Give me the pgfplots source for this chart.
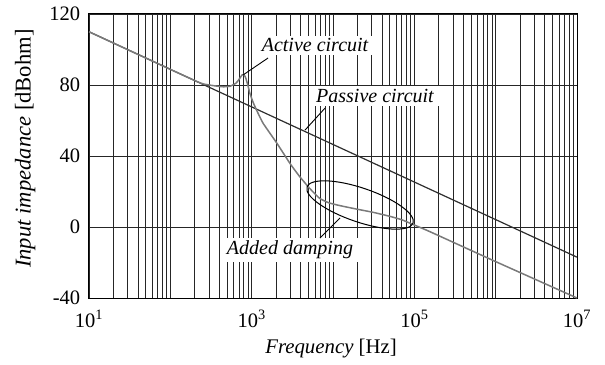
\documentclass[border=0pt]{standalone}
\usepackage{fontspec}
\setmainfont{Liberation Serif}
\usepackage{pgfplots}
\pgfplotsset{compat=1.18}
\usetikzlibrary{shapes.geometric}
\definecolor{passivecol}{HTML}{2E2E2E}
\definecolor{activecol}{HTML}{7A7A7A}
\definecolor{gridcol}{HTML}{262626}
\begin{document}
\fontsize{20bp}{24bp}\selectfont
\begin{tikzpicture}
\begin{axis}[
  scale only axis, width=488bp, height=284bp,
  xmode=log, xmin=10, xmax=1e7, ymin=-40, ymax=120,
  log basis x=10,
  xtick={1e1,1e2,1e3,1e4,1e5,1e6,1e7},
  minor xtick={20,30,40,50,60,70,80,90,
    200,300,400,500,600,700,800,900,
    2000,3000,4000,5000,6000,7000,8000,9000,
    20000,30000,40000,50000,60000,70000,80000,90000,
    200000,300000,400000,500000,600000,700000,800000,900000,
    2000000,3000000,4000000,5000000,6000000,7000000,8000000,9000000},
  xticklabels={10\textsuperscript{1},,10\textsuperscript{3},,10\textsuperscript{5},,10\textsuperscript{7}},
  ytick={-40,0,40,80,120}, yticklabels={-40,0,40,80,120},
  xmajorgrids, xminorgrids, ymajorgrids,
  major tick length=0pt, minor tick length=0pt,
  grid style={draw=gridcol, line width=0.8bp},
  minor grid style={draw=gridcol, line width=0.8bp},
  major grid style={draw=gridcol, line width=0.8bp},
  axis line style={line width=1bp, black},
  tick label style={font=\fontsize{20.5bp}{24bp}\selectfont},
  xticklabel style={anchor=base, yshift=-29bp},
  yticklabel style={anchor=east, xshift=-2bp},
  xlabel={\textit{Frequency} [Hz]},
  ylabel={\textit{Input impedance} [dBohm]},
  xlabel style={at={(rel axis cs:0.496,-0.1937)}, anchor=base, font=\fontsize{20.8bp}{24bp}\selectfont},
  ylabel style={at={(rel axis cs:-0.131,0.526)}, anchor=center, font=\fontsize{22.6bp}{26bp}\selectfont},
  clip=false,
]
\path (rel axis cs:-0.18238,-0.21831) rectangle (rel axis cs:1.05738,1.0493);
% passive circuit
\addplot[color=passivecol, line width=1.2bp] coordinates {(10,110) (1e7,-17)};
% active circuit
\addplot[color=activecol, line width=1.5bp, smooth, tension=0.3] coordinates {
(10,110) (100,88.8) (200,82.5) (254,80.6) (355,79.5) (447,79.0) (542,79.3)
(641,81.0) (708,83.5) (760,85.6) (800,86.0) (845,84.0) (902,79.5) (955,75.0)
(1047,70.0) (1148,65.9) (1380,58.5) (2042,47.2) (2951,35.9) (3802,29.0)
(4786,23.5) (5754,19.5) (6918,16.0) (8913,13.6) (12300,12.0) (19950,10.0)
(31620,8.2) (50120,6.0) (70790,4.0) (97720,1.3) (154900,-2.6) (1e6,-19.5) (1e7,-40)
};
% annotations
\node[fill=white, inner xsep=5bp, inner ysep=3bp, font=\itshape] at (axis cs:6010,102.3) {Active circuit};
\draw[line width=0.9bp, black] (axis cs:1589,95.2) -- (axis cs:781,85.6);
\node[fill=white, inner xsep=5bp, inner ysep=3bp, font=\itshape] at (axis cs:32800,73.8) {Passive circuit};
\draw[line width=0.9bp, black] (axis cs:7980,67) -- (axis cs:4530,54.6);
\node[fill=white, inner xsep=5bp, inner ysep=3bp, font=\itshape] at (axis cs:2960,-13) {Added damping};
\draw[line width=0.9bp, black] (axis cs:6920,-6.2) -- (axis cs:12200,5.1);
\node[draw=black, line width=1bp, ellipse, minimum width=112bp, minimum height=34bp, rotate=-18.8, inner sep=0pt] at (axis cs:21500,12.4) {};
\end{axis}
\end{tikzpicture}
\end{document}
